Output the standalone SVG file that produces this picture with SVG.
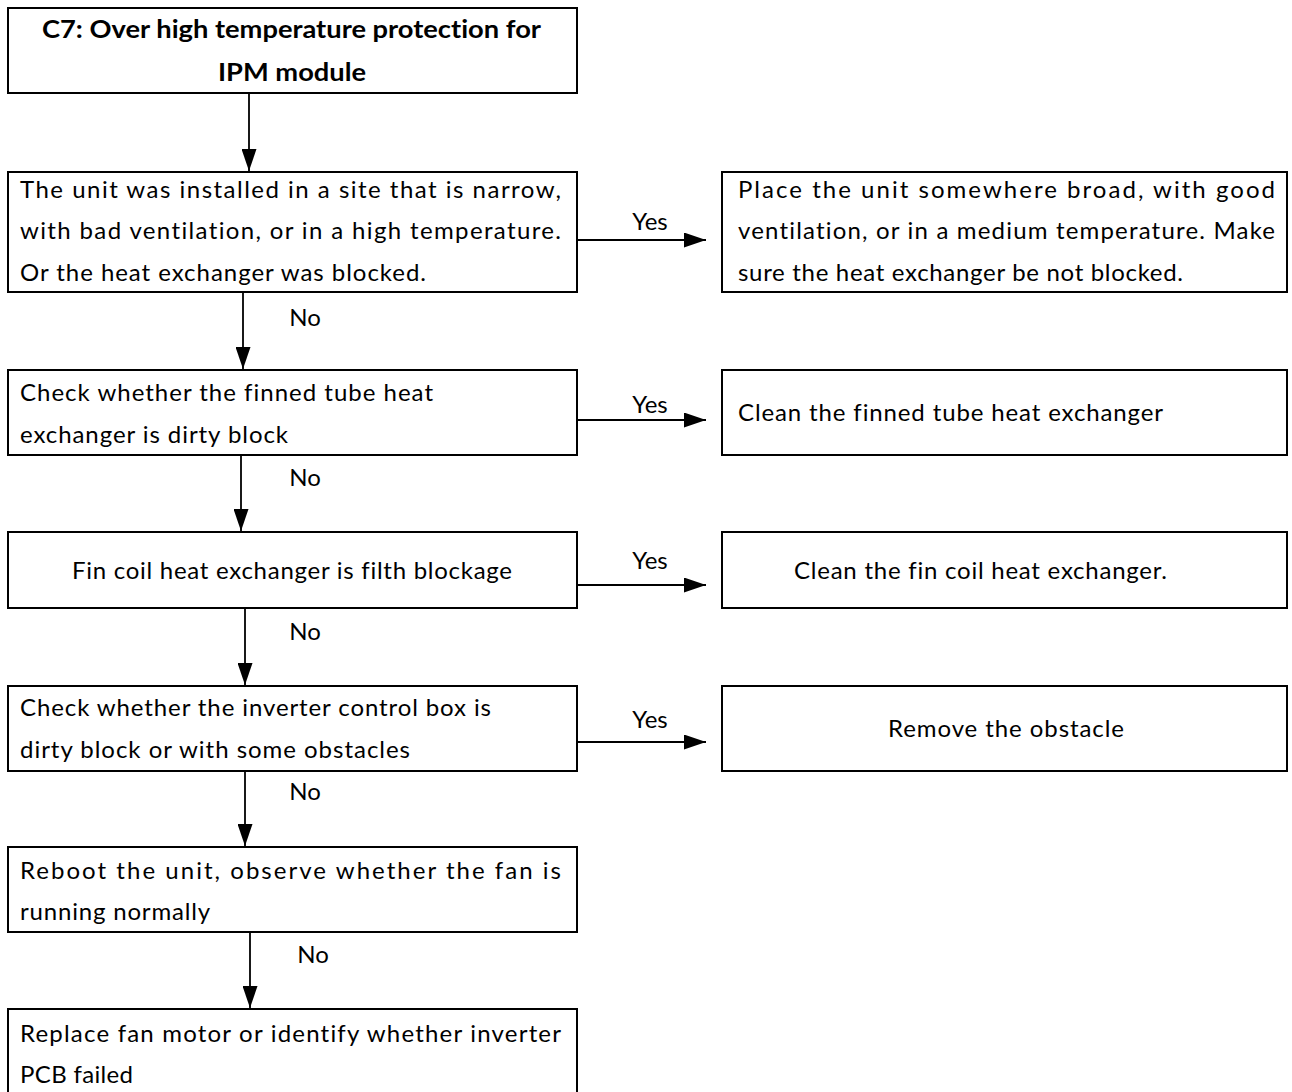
<svg xmlns="http://www.w3.org/2000/svg" width="1292" height="1092" viewBox="0 0 1292 1092">
<defs>
<marker id="ah" viewBox="0 0 22 15" refX="22" refY="7.5" markerWidth="22" markerHeight="15" markerUnits="userSpaceOnUse" orient="auto">
<path d="M0,0 L22,7.5 L0,15 Z" fill="#000"/>
</marker>
<style>
.box{fill:#fff;stroke:#000;stroke-width:2}
.t{font-family:Lato,"Liberation Sans",sans-serif;font-size:24px;fill:#000;font-variant-ligatures:none}
.b{font-weight:bold}
.c{stroke:#000;stroke-width:1.8;fill:none;marker-end:url(#ah)}
</style>
</defs>
<rect width="1292" height="1092" fill="#fff"/>
<g id="connectors">
<line class="c" x1="249" y1="93" x2="249" y2="171"/>
<line class="c" x1="243" y1="292" x2="243" y2="369"/>
<line class="c" x1="241" y1="455" x2="241" y2="531"/>
<line class="c" x1="245" y1="608" x2="245" y2="685"/>
<line class="c" x1="245" y1="771" x2="245" y2="846"/>
<line class="c" x1="250" y1="932" x2="250" y2="1008"/>
<line class="c" x1="577" y1="240" x2="706" y2="240"/>
<line class="c" x1="577" y1="420" x2="706" y2="420"/>
<line class="c" x1="577" y1="585" x2="706" y2="585"/>
<line class="c" x1="577" y1="742" x2="706" y2="742"/>
<text class="t" x="650" y="230" text-anchor="middle">Yes</text>
<text class="t" x="650" y="413" text-anchor="middle">Yes</text>
<text class="t" x="650" y="569" text-anchor="middle">Yes</text>
<text class="t" x="650" y="728" text-anchor="middle">Yes</text>
<text class="t" x="305" y="326" text-anchor="middle">No</text>
<text class="t" x="305" y="486" text-anchor="middle">No</text>
<text class="t" x="305" y="640" text-anchor="middle">No</text>
<text class="t" x="305" y="800" text-anchor="middle">No</text>
<text class="t" x="313" y="963" text-anchor="middle">No</text>
</g>
<g id="n1">
<rect class="box" x="8" y="8" width="569" height="85"/>
<text class="t b" x="42" y="38" textLength="499" lengthAdjust="spacingAndGlyphs">C7: Over high temperature protection for</text>
<text class="t b" x="218" y="81" textLength="148" lengthAdjust="spacingAndGlyphs">IPM module</text>
</g>
<g id="n2">
<rect class="box" x="8" y="172" width="569" height="120"/>
<text class="t" x="20" y="198" textLength="541" lengthAdjust="spacing">The unit was installed in a site that is narrow,</text>
<text class="t" x="20" y="239" textLength="541" lengthAdjust="spacing">with bad ventilation, or in a high temperature.</text>
<text class="t" x="20" y="281" textLength="406" lengthAdjust="spacing">Or the heat exchanger was blocked.</text>
</g>
<g id="n2y">
<rect class="box" x="722" y="172" width="565" height="120"/>
<text class="t" x="738" y="198" textLength="537" lengthAdjust="spacing">Place the unit somewhere broad, with good</text>
<text class="t" x="738" y="239" textLength="537" lengthAdjust="spacing">ventilation, or in a medium temperature. Make</text>
<text class="t" x="738" y="281" textLength="445" lengthAdjust="spacing">sure the heat exchanger be not blocked.</text>
</g>
<g id="n3">
<rect class="box" x="8" y="370" width="569" height="85"/>
<text class="t" x="20" y="401" textLength="413" lengthAdjust="spacing">Check whether the finned tube heat</text>
<text class="t" x="20" y="443" textLength="268" lengthAdjust="spacing">exchanger is dirty block</text>
</g>
<g id="n3y">
<rect class="box" x="722" y="370" width="565" height="85"/>
<text class="t" x="738" y="421" textLength="425" lengthAdjust="spacing">Clean the finned tube heat exchanger</text>
</g>
<g id="n4">
<rect class="box" x="8" y="532" width="569" height="76"/>
<text class="t" x="72" y="579" textLength="440" lengthAdjust="spacing">Fin coil heat exchanger is filth blockage</text>
</g>
<g id="n4y">
<rect class="box" x="722" y="532" width="565" height="76"/>
<text class="t" x="794" y="579" textLength="373" lengthAdjust="spacing">Clean the fin coil heat exchanger.</text>
</g>
<g id="n5">
<rect class="box" x="8" y="686" width="569" height="85"/>
<text class="t" x="20" y="716" textLength="471" lengthAdjust="spacing">Check whether the inverter control box is</text>
<text class="t" x="20" y="758" textLength="390" lengthAdjust="spacing">dirty block or with some obstacles</text>
</g>
<g id="n5y">
<rect class="box" x="722" y="686" width="565" height="85"/>
<text class="t" x="888" y="737" textLength="236" lengthAdjust="spacing">Remove the obstacle</text>
</g>
<g id="n6">
<rect class="box" x="8" y="847" width="569" height="85"/>
<text class="t" x="20" y="879" textLength="541" lengthAdjust="spacing">Reboot the unit, observe whether the fan is</text>
<text class="t" x="20" y="920" textLength="190" lengthAdjust="spacing">running normally</text>
</g>
<g id="n7">
<rect class="box" x="8" y="1009" width="569" height="90"/>
<text class="t" x="20" y="1042" textLength="541" lengthAdjust="spacing">Replace fan motor or identify whether inverter</text>
<text class="t" x="20" y="1083" textLength="113" lengthAdjust="spacing">PCB failed</text>
</g>
</svg>
